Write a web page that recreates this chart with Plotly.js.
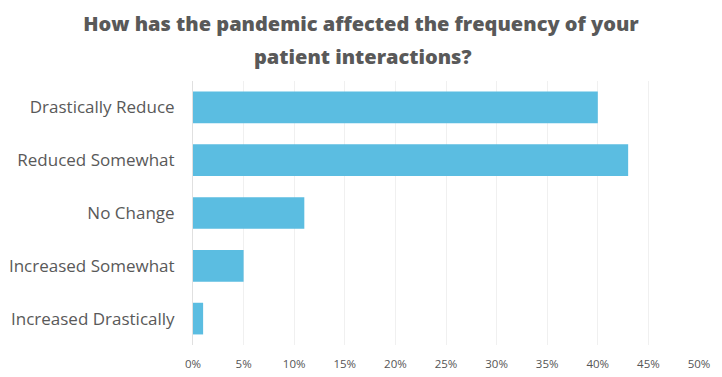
<!DOCTYPE html>
<html>
<head>
<meta charset="utf-8">
<script src="https://cdn.plot.ly/plotly-3.0.1.min.js"></script>
<style>html,body{margin:0;padding:0;background:#fff;}#chart{width:722px;height:377px;}</style>
</head>
<body>
<div id="chart"></div>
<script>
const categories = ["Drastically Reduce", "Reduced Somewhat", "No Change", "Increased Somewhat", "Increased Drastically"];
const values = [40, 43, 11, 5, 1];
const tickValues = [0, 5, 10, 15, 20, 25, 30, 35, 40, 45, 50];
const tickLabels = ["0%", "5%", "10%", "15%", "20%", "25%", "30%", "35%", "40%", "45%", "50%"];
const titleLine1 = "How has the pandemic affected the frequency of your";
const titleLine2 = "patient interactions?";

const titleFont = {family: "Open Sans", size: 20, color: "#595959", weight: 800};

const trace = {
  type: "bar",
  orientation: "h",
  y: categories,
  x: values,
  marker: {color: "#5bbde1"},
  hoverinfo: "x+y"
};

const layout = {
  width: 722,
  height: 377,
  margin: {l: 193, r: 22.5, t: 80.5, b: 31.5},
  paper_bgcolor: "#fff",
  plot_bgcolor: "#fff",
  bargap: 0.4,
  showlegend: false,
  title: {
    text: titleLine1,
    font: titleFont,
    x: 0.5, xanchor: "center",
    y: 0.9363, yanchor: "middle"
  },
  annotations: [{
    text: titleLine2,
    font: titleFont,
    xref: "paper", yref: "paper",
    x: 0.335, xanchor: "center",
    y: 1.0925, yanchor: "middle",
    showarrow: false
  }],
  xaxis: {
    range: [0, 50],
    tickvals: tickValues,
    ticktext: tickLabels,
    showgrid: true,
    gridcolor: "#f0f0f0",
    gridwidth: 1,
    zeroline: false,
    showline: false,
    ticks: "outside",
    ticklen: 8,
    tickcolor: "rgba(0,0,0,0)",
    tickfont: {family: "Open Sans", size: 11.5, color: "#555"},
    fixedrange: true
  },
  yaxis: {
    autorange: "reversed",
    showgrid: false,
    zeroline: false,
    showline: true,
    linecolor: "#e0e0e0",
    linewidth: 1,
    ticks: "outside",
    ticklen: 14,
    tickcolor: "rgba(0,0,0,0)",
    tickfont: {family: "Open Sans", size: 17, color: "#595959"},
    fixedrange: true
  }
};

Plotly.newPlot("chart", [trace], layout, {displayModeBar: false, staticPlot: true});
</script>
</body>
</html>
